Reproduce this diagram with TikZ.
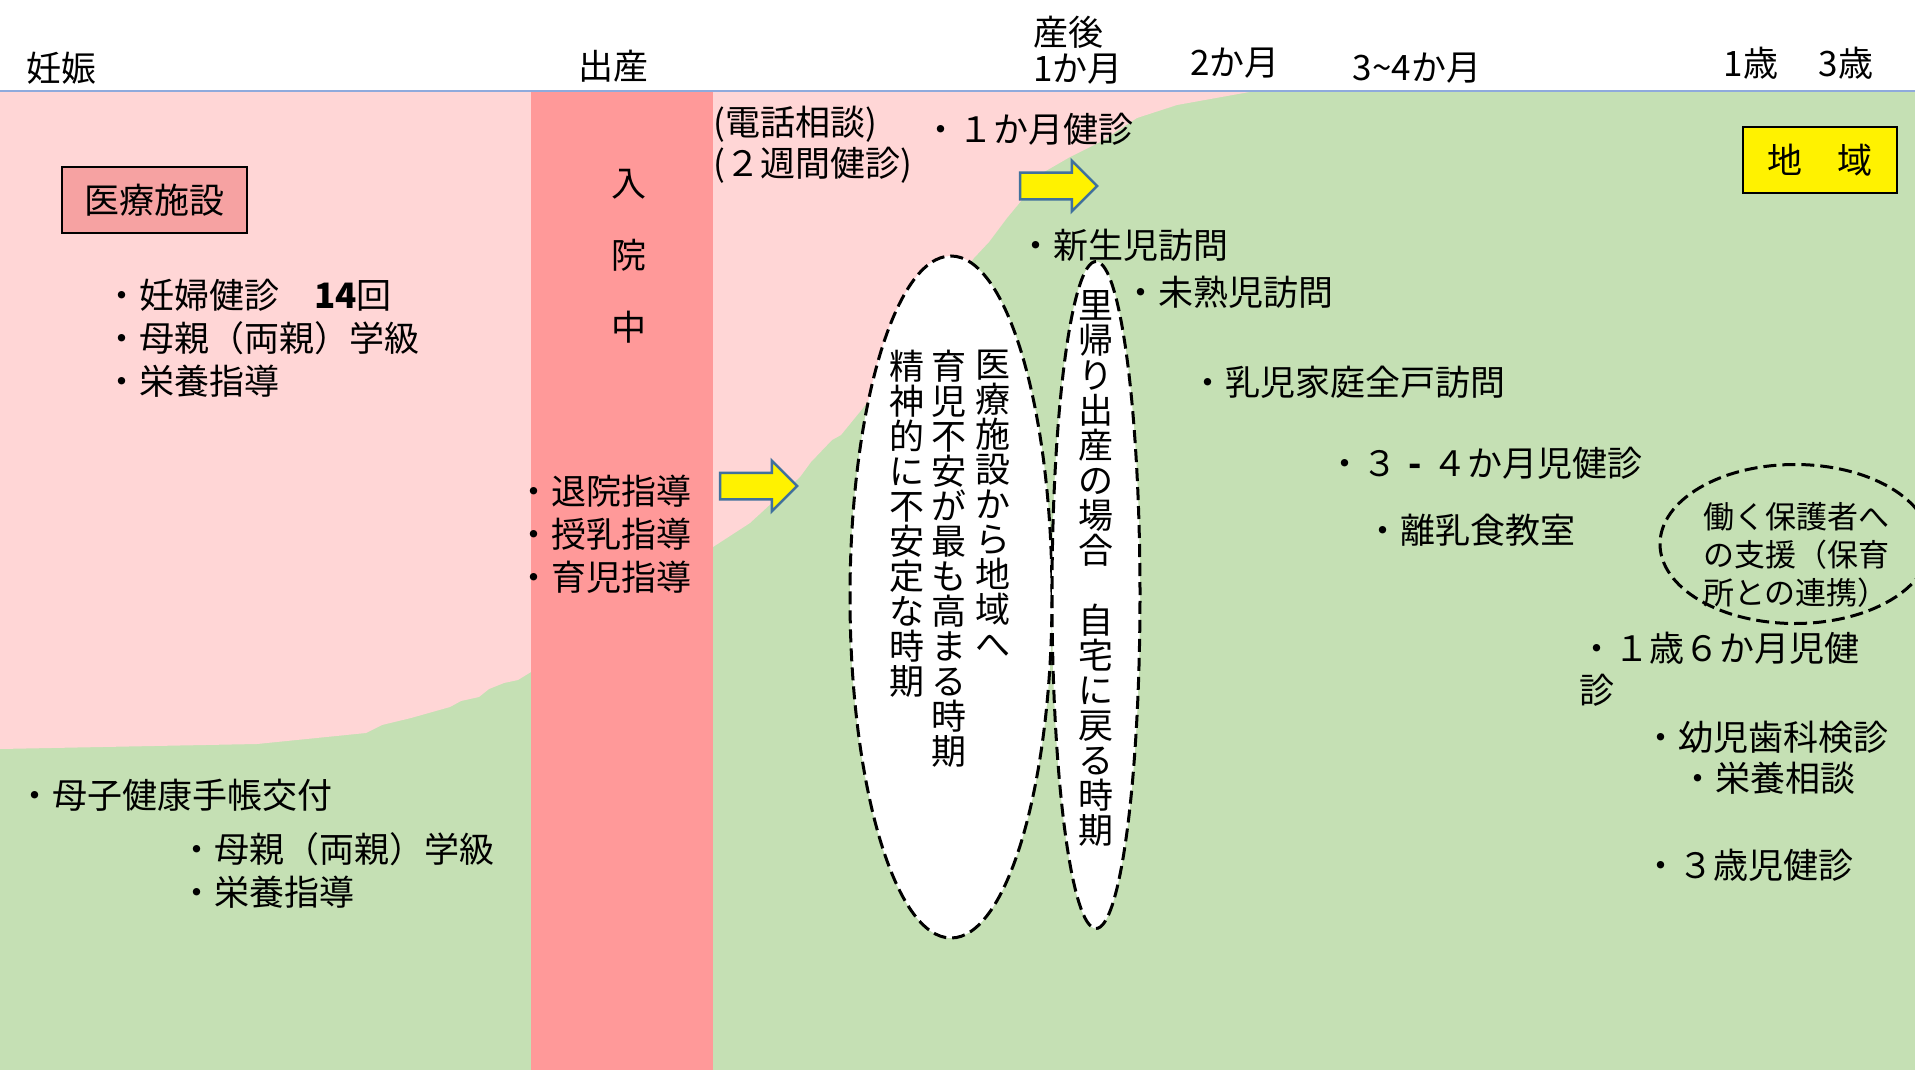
\documentclass[tikz,border=0pt]{standalone}
\usepackage{fontspec}
\setmainfont{Noto Sans CJK JP}
\usetikzlibrary{shapes.geometric,shapes.arrows}
\definecolor{kusa}{RGB}{197,224,180}
\definecolor{momo}{RGB}{255,214,214}
\definecolor{obi}{RGB}{255,153,153}
\definecolor{hako}{RGB}{246,162,162}
\definecolor{waku}{RGB}{65,113,156}
\definecolor{sen}{RGB}{143,170,220}
\makeatletter
\newcommand\tatechars[1]{\vbox{\baselineskip=35pt\lineskiplimit=-100pt\@tfor\tatechar:=#1\do{\hbox to 35pt{\hss\tatechar\hss}}}}
\makeatother
\begin{document}
\begin{tikzpicture}[x=1pt,y=-1pt,
  item/.style={font=\fontsize{35}{43}\selectfont,inner sep=0pt,anchor=west,align=left},
  midashi/.style={font=\fontsize{35}{36}\selectfont,inner sep=0pt},
  tateoval/.style={ellipse,draw,fill=white,line width=3pt,dash pattern=on 13pt off 6pt,inner sep=0pt},
  yarrow/.style={single arrow,draw=waku,fill=yellow,line width=2.5pt,minimum height=77pt,minimum width=48pt,single arrow head extend=12pt,inner xsep=0pt,inner ysep=12pt},
  labelbox/.style={draw,line width=2pt,inner sep=0pt,font=\fontsize{35}{36}\selectfont,minimum height=65pt}]
\useasboundingbox (0,0) rectangle (1915,1070);
\clip (0,0) rectangle (1915,1070);
\fill[white] (0,0) rectangle (1915,1070);
% areas
\fill[kusa] (0,91) rectangle (1915,1070);
\fill[momo] (0,91)--(1255,91)--(1177,105)--(1137,118)--(1100,142)--(1070,157)--(1044,172)--(1026,195)--(1007,218)--(989,242)--(974,258)--(863,408)--(841,435)--(832,440)--(811,462)--(800,477)--(750,523)--(713,547)--(531,672)--(518,680)--(504,683)--(489,689)--(479,697)--(461,701)--(450,707)--(411,718)--(382,725)--(366,733)--(257,744)--(0,749)--cycle;
\fill[obi] (531,91) rectangle (713,1070);
\draw[sen,line width=2pt] (0,91)--(1915,91);
% headings
\node[midashi] (ninshin) at (62,68) {妊娠};
\node[midashi] (shussan) at (613,66) {出産};
\node[midashi,anchor=west,align=left] (sango) at (1033,50) {産後\\1か月};
\node[midashi] (m2) at (1235,63) {2か月};
\node[midashi] (m34) at (1417,68) {3\char"7E 4か月};
\node[midashi] (y1) at (1751,63) {1歳};
\node[midashi] (y3) at (1846,63) {3歳};
% boxes
\node[labelbox,fill=hako,minimum width=185pt] (iryo) at (154,200) {医療施設};
\node[labelbox,fill=yellow,minimum width=154pt] (chiiki) at (1820,160) {地　域};
% ovals and arrows
\node[tateoval,minimum width=202pt,minimum height=682pt] (ovalA) at (951,597) {};
\node[tateoval,minimum width=88pt,minimum height=667pt] (ovalB) at (1096,595) {};
\node[tateoval,fill=none,minimum width=270pt,minimum height=159pt] (care) at (1795,544) {};
\node[yarrow] (toHome) at (752,486) {};
\node[yarrow] (toLocal) at (1052,186) {};
% vertical texts
\node[inner sep=0pt,anchor=north,font=\fontsize{35}{35}\selectfont] (colA) at (993,350) {\tatechars{医療施設から地域へ}};
\node[inner sep=0pt,anchor=north,font=\fontsize{35}{35}\selectfont] (colB) at (949,350) {\tatechars{育児不安が最も高まる時期}};
\node[inner sep=0pt,anchor=north,font=\fontsize{35}{35}\selectfont] (colC) at (907,350) {\tatechars{精神的に不安定な時期}};
\node[inner sep=0pt,anchor=north,font=\fontsize{35}{35}\selectfont] (colD) at (1096,290) {\tatechars{里帰り出産の場合　自宅に戻る時期}};
% items
\node[item] (ninpu) at (104,338) {・妊婦健診　{\bfseries 14}回\\・母親（両親）学級\\・栄養指導};
\node[item,font=\fontsize{35}{72}\selectfont,anchor=center,align=center] (nyuin) at (629,256) {入\\院\\中};
\node[item] (taiin) at (516,534) {・退院指導\\・授乳指導\\・育児指導};
\node[item,font=\fontsize{35}{41}\selectfont] (denwa) at (713,145) {(電話相談)\\(２週間健診)};
\node[item] (ikkagetsu) at (923,129) {・１か月健診};
\node[item] (shinsei) at (1018,245) {・新生児訪問};
\node[item] (mijuku) at (1123,292) {・未熟児訪問};
\node[item] (zenko) at (1190,382) {・乳児家庭全戸訪問};
\node[item] (kenshin34) at (1327,463) {・３\makebox[35pt]{\bfseries -}４か月児健診};
\node[item] (rinyu) at (1365,530) {・離乳食教室};
\node[item,font=\fontsize{31}{38}\selectfont] (hataraku) at (1703,555) {働く保護者へ\\の支援（保育\\所との連携）};
\node[item,font=\fontsize{35}{42}\selectfont] (kenshin18) at (1579,669) {・１歳６か月児健\\診};
\node[item] (shika) at (1643,737) {・幼児歯科検診};
\node[item] (eiyo) at (1680,778) {・栄養相談};
\node[item] (kenshin3) at (1643,865) {・３歳児健診};
\node[item] (techo) at (17,795) {・母子健康手帳交付};
\node[item] (ryoshin) at (179,870) {・母親（両親）学級\\・栄養指導};
\end{tikzpicture}
\end{document}
